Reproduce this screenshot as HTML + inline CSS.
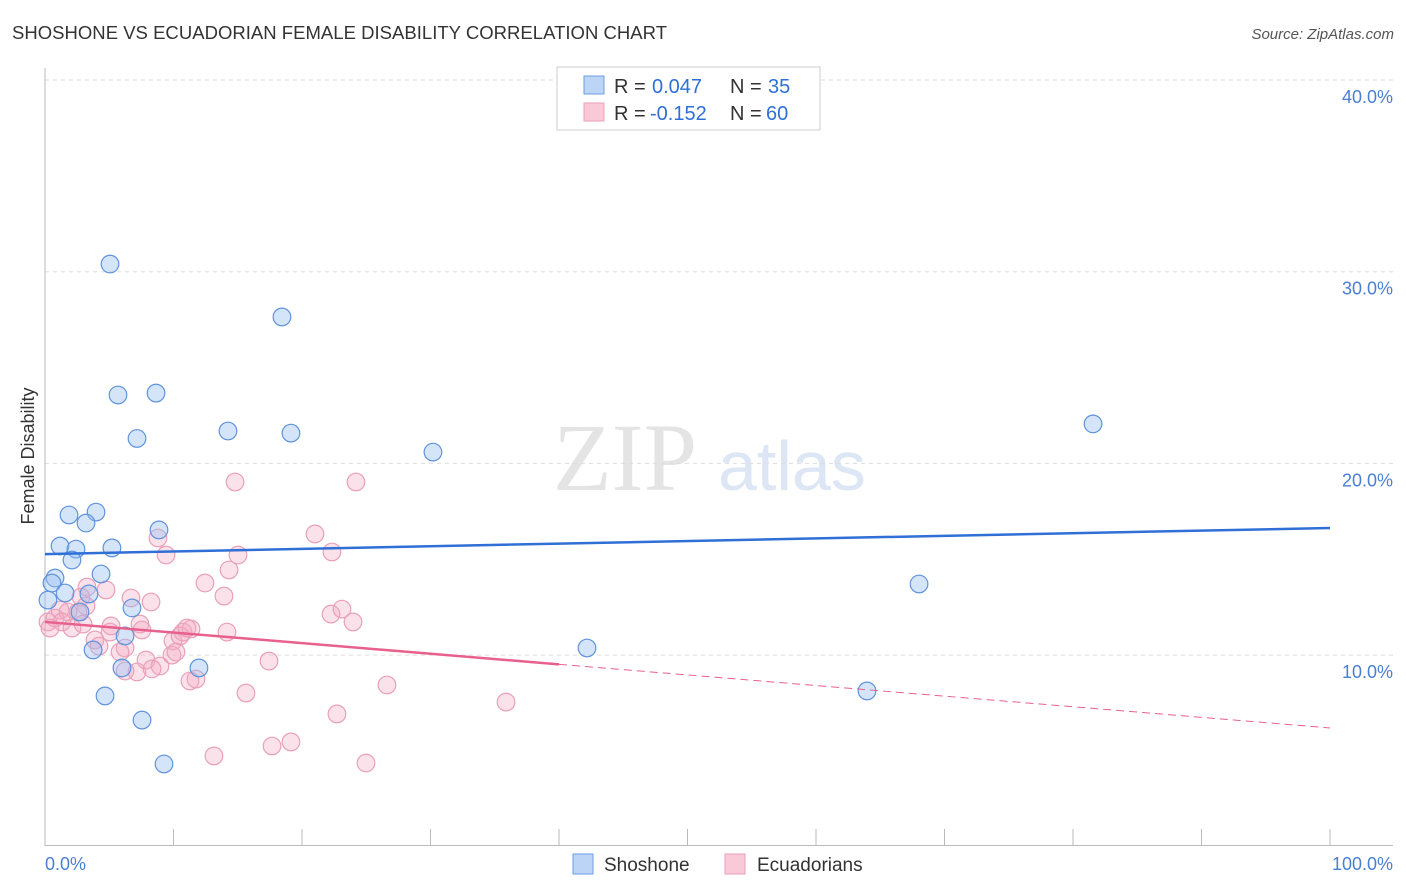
<!DOCTYPE html>
<html><head><meta charset="utf-8"><style>
body{margin:0;background:#fff;font-family:"Liberation Sans",sans-serif}
svg{display:block}
</style></head><body>
<svg id="c" width="1406" height="892" viewBox="0 0 1406 892" xmlns="http://www.w3.org/2000/svg">
<text x="12" y="39" font-size="18.5" fill="#333" textLength="655">SHOSHONE VS ECUADORIAN FEMALE DISABILITY CORRELATION CHART</text>
<text x="1394" y="39" font-size="15" fill="#555" font-style="italic" text-anchor="end">Source: ZipAtlas.com</text>
<g>
<text x="553" y="490" font-family="Liberation Serif,serif" font-size="96" fill="#e4e4e4">ZIP</text>
<text x="718" y="490" font-size="70" fill="#dde6f4">atlas</text>
</g>
<g id="grid"></g>
<line x1="45" y1="68" x2="45" y2="846" stroke="#bbb"/>
<line x1="45" y1="845.5" x2="1393" y2="845.5" stroke="#bbb"/>
<g id="ticks"></g>
<text transform="translate(34,456) rotate(-90)" font-size="18" fill="#333" text-anchor="middle">Female Disability</text>
<text x="45" y="870" font-size="18" fill="#4a7fd4">0.0%</text>
<text x="1393" y="870" font-size="18" fill="#4a7fd4" text-anchor="end">100.0%</text>
<g id="pts"></g>
<g id="lines"></g>
<g>
<rect x="557" y="67" width="263" height="63" fill="#fff" stroke="#ccc"/>
<rect x="584" y="76" width="20" height="18" fill="#bcd4f5" stroke="#6c9ee0"/>
<rect x="584" y="103" width="20" height="18" fill="#f9c9d8" stroke="#eaa0b8"/>
<text x="614" y="93" font-size="20" fill="#333">R = <tspan x="652" fill="#2f6fd6">0.047</tspan><tspan x="730">N = </tspan><tspan x="768" fill="#2f6fd6">35</tspan></text>
<text x="614" y="120" font-size="20" fill="#333">R = <tspan x="650" fill="#2f6fd6">-0.152</tspan><tspan x="730">N = </tspan><tspan x="766" fill="#2f6fd6">60</tspan></text>
</g>
<g>
<rect x="573" y="854" width="20" height="20" fill="#bcd4f5" stroke="#6c9ee0"/>
<text x="604" y="871" font-size="19" fill="#333">Shoshone</text>
<rect x="725" y="854" width="20" height="20" fill="#f9c9d8" stroke="#eaa0b8"/>
<text x="757" y="871" font-size="19" fill="#333">Ecuadorians</text>
</g>
</svg>
<script>
const yTicks=[10,20,30,40];
const yTickLabels=["10.0%","20.0%","30.0%","40.0%"];
const xTicks=[0,10,20,30,40,50,60,70,80,90,100];
const shoX=[5.06,18.44,5.68,8.64,7.16,14.24,19.14,30.19,81.56,1.87,3.97,3.19,8.87,1.17,2.41,5.21,2.10,0.78,0.54,4.36,1.56,3.42,0.23,6.77,2.72,6.23,3.74,5.99,11.98,42.18,68.02,63.97,4.67,7.55,9.26];
const shoY=[30.40,27.64,23.57,23.67,21.30,21.69,21.58,20.59,22.06,17.31,17.46,16.89,16.53,15.69,15.53,15.59,14.96,14.02,13.76,14.23,13.24,13.19,12.87,12.46,12.25,11.00,10.27,9.33,9.33,10.37,13.71,8.13,7.87,6.61,4.32];
const ecuX=[14.79,24.20,8.79,9.42,15.02,21.01,22.33,12.45,3.27,4.75,13.93,6.69,8.25,1.17,3.19,1.79,2.57,0.78,0.23,1.32,2.10,0.39,2.96,5.14,7.39,5.06,7.55,22.26,23.11,23.97,10.74,11.36,14.16,3.89,4.20,6.23,5.84,9.96,10.51,9.88,10.19,7.86,17.43,8.95,7.16,6.23,11.75,11.28,26.61,15.64,35.88,22.72,13.15,17.67,19.14,24.98,2.80,14.32,11.05,8.33];
const ecuY=[19.03,19.03,16.11,15.22,15.22,16.32,15.38,13.76,13.55,13.40,13.08,12.98,12.77,12.35,12.56,12.25,12.25,11.93,11.73,11.73,11.41,11.41,11.62,11.52,11.62,11.20,11.31,12.14,12.40,11.73,11.20,11.36,11.20,10.79,10.47,10.37,10.16,10.74,11.00,10.00,10.16,9.74,9.69,9.43,9.12,9.17,8.75,8.65,8.44,8.02,7.55,6.93,4.74,5.26,5.47,4.37,13.03,14.44,11.41,9.28];
const shoFit=[15.27,16.63];
const ecuFit=[11.73,6.20];
const ecuSolidEnd=40;
const NS="http://www.w3.org/2000/svg";
const X=v=>45+v*12.85, Y=v=>80+(40-v)*19.17;
function mk(tag,a,p){const e=document.createElementNS(NS,tag);for(const k in a)e.setAttribute(k,a[k]);document.getElementById(p).appendChild(e);return e;}
yTicks.forEach((t,i)=>{
 const l=mk('line',{x1:45,x2:1393,y1:Y(t),y2:Y(t),stroke:'#ddd','stroke-dasharray':'4,4'},'grid');
 
 
 const tx=mk('text',{x:1393,y:Y(t)+23,'font-size':18,fill:'#4a7fd4','text-anchor':'end'},'grid');
 tx.textContent=yTickLabels[i];
 
 
});
xTicks.forEach(t=>{
 const l=mk('line',{x1:X(t),x2:X(t),y1:829,y2:845,stroke:'#bbb'},'ticks');
 
 
});
function pts(xs,ys,fill,stroke,name){
 xs.forEach((x,i)=>{
  const c=mk('circle',{cx:X(x),cy:Y(ys[i]),r:8.8,fill:fill,stroke:stroke,'stroke-width':1.2},'pts');
  
  
 });
}
pts(ecuX,ecuY,'rgba(244,170,195,0.35)','#e9a0b9','ecuadorian-point');
pts(shoX,shoY,'rgba(150,190,240,0.4)','#5f93dc','shoshone-point');
const f=(fit,x)=>fit[0]+(fit[1]-fit[0])*x/100;
let l=mk('line',{x1:X(0),y1:Y(shoFit[0]),x2:X(100),y2:Y(shoFit[1]),stroke:'#2f6fd6','stroke-width':2.5},'lines');


l=mk('line',{x1:X(0),y1:Y(ecuFit[0]),x2:X(ecuSolidEnd),y2:Y(f(ecuFit,ecuSolidEnd)),stroke:'#e8608c','stroke-width':2.5},'lines');


l=mk('line',{x1:X(ecuSolidEnd),y1:Y(f(ecuFit,ecuSolidEnd)),x2:X(100),y2:Y(ecuFit[1]),stroke:'#e8608c','stroke-width':1,'stroke-dasharray':'8,5'},'lines');


</script>
</body></html>
